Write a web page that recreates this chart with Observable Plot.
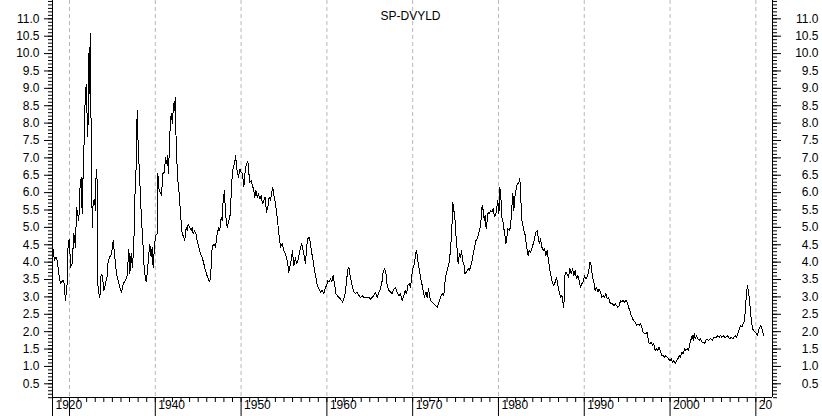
<!DOCTYPE html>
<html>
<head>
<meta charset="utf-8">
<script src="https://cdn.jsdelivr.net/npm/d3@7"></script>
<script src="https://cdn.jsdelivr.net/npm/@observablehq/plot@0.6"></script>
<style>
  html, body { margin: 0; padding: 0; background: #fff; }
  #chart svg { display: block; }
</style>
</head>
<body>
<div id="chart"></div>
<script>
const title = "SP-DVYLD";

const years = [
1928.06,1928.25,1928.45,1928.56,1928.76,1928.95,1929.15,1929.34,1929.53,1929.73,1929.85,
1930.00,1930.12,1930.31,1930.51,1930.70,1930.82,1931.09,1931.20,1931.36,1931.48,1931.59,1931.67,1931.79,1931.94,
1932.06,1932.14,1932.27,1932.33,1932.41,1932.49,1932.56,1932.68,1932.76,1932.91,1933.03,1933.11,1933.23,1933.30,
1933.42,1933.54,1933.69,1933.85,1934.00,1934.20,1934.39,1934.51,1934.70,1934.90,1935.09,1935.25,1935.48,1935.75,
1936.06,1936.26,1936.53,1936.72,1936.92,1937.03,1937.19,1937.34,1937.50,1937.62,1937.77,1937.89,1938.00,1938.12,
1938.28,1938.39,1938.55,1938.67,1938.82,1938.94,1939.05,1939.25,1939.36,1939.52,1939.64,1939.75,1939.91,
1940.03,1940.22,1940.30,1940.45,1940.61,1940.72,1940.88,1941.07,1941.19,1941.31,1941.42,1941.54,1941.70,1941.85,
1942.01,1942.12,1942.24,1942.32,1942.40,1942.47,1942.63,1942.78,1942.94,1943.13,1943.33,1943.44,1943.60,1943.72,
1943.83,1944.03,1944.18,1944.30,1944.42,1944.57,1944.73,1944.88,1945.08,1945.27,1945.46,1945.66,1945.85,
1946.05,1946.24,1946.36,1946.51,1946.63,1946.82,1947.02,1947.21,1947.41,1947.52,1947.68,1947.80,1947.91,
1948.07,1948.18,1948.38,1948.57,1948.77,1948.88,1949.08,1949.23,1949.35,1949.54,1949.70,1949.86,
1950.01,1950.17,1950.32,1950.48,1950.63,1950.79,1950.90,1951.02,1951.18,1951.33,1951.49,1951.60,1951.72,1951.88,
1952.03,1952.19,1952.34,1952.50,1952.65,1952.81,1952.96,1953.12,1953.27,1953.43,1953.58,1953.70,1953.82,
1954.01,1954.21,1954.40,1954.60,1954.79,1954.98,1955.18,1955.37,1955.57,1955.68,1955.84,1955.99,
1956.15,1956.34,1956.46,1956.62,1956.77,1956.93,1957.08,1957.24,1957.39,1957.51,1957.63,1957.78,1957.94,
1958.09,1958.25,1958.40,1958.56,1958.71,1958.87,1959.06,1959.26,1959.45,1959.65,1959.80,1959.96,
1960.11,1960.27,1960.42,1960.58,1960.73,1960.89,1961.05,1961.20,1961.39,1961.59,1961.82,1961.98,
1962.13,1962.29,1962.41,1962.56,1962.68,1962.83,1962.99,1963.14,1963.34,1963.53,1963.73,1963.92,
1964.12,1964.31,1964.50,1964.70,1964.89,1965.09,1965.28,1965.47,1965.67,1965.86,
1966.06,1966.25,1966.45,1966.56,1966.72,1966.87,1967.03,1967.22,1967.42,1967.61,1967.81,
1968.00,1968.19,1968.39,1968.58,1968.78,1968.97,1969.13,1969.28,1969.44,1969.59,1969.75,1969.90,
1970.06,1970.22,1970.33,1970.45,1970.60,1970.76,1970.91,1971.07,1971.22,1971.38,1971.54,1971.69,1971.85,
1972.00,1972.08,1972.27,1972.47,1972.66,1972.86,1973.05,1973.25,1973.44,1973.63,1973.75,1973.91,
1974.02,1974.22,1974.41,1974.57,1974.68,1974.80,1974.92,1975.03,1975.19,1975.30,1975.46,1975.58,1975.69,1975.81,1975.97,
1976.08,1976.24,1976.35,1976.47,1976.59,1976.74,1976.90,1977.05,1977.21,1977.36,1977.52,1977.68,1977.83,1977.99,
1978.10,1978.22,1978.34,1978.45,1978.57,1978.69,1978.80,1978.92,1979.07,1979.23,1979.38,1979.54,1979.70,1979.81,1979.93,
1980.05,1980.16,1980.28,1980.40,1980.51,1980.63,1980.74,1980.86,1980.98,1981.10,1981.25,1981.41,1981.56,1981.68,1981.79,1981.91,
1982.03,1982.18,1982.34,1982.49,1982.61,1982.73,1982.84,1982.96,1983.08,1983.19,1983.35,1983.46,1983.58,1983.74,1983.89,
1984.05,1984.20,1984.36,1984.51,1984.63,1984.75,1984.90,1985.06,1985.21,1985.37,1985.52,1985.68,1985.83,1985.99,
1986.15,1986.30,1986.46,1986.61,1986.77,1986.92,1987.08,1987.23,1987.39,1987.54,1987.62,1987.74,1987.86,
1988.01,1988.17,1988.32,1988.48,1988.63,1988.79,1988.94,1989.10,1989.25,1989.41,1989.56,1989.72,1989.88,
1990.03,1990.19,1990.34,1990.50,1990.65,1990.81,1990.96,1991.12,1991.27,1991.43,1991.59,1991.74,1991.90,
1992.05,1992.21,1992.36,1992.52,1992.67,1992.83,1992.98,1993.14,1993.30,1993.45,1993.61,1993.76,1993.92,
1994.07,1994.23,1994.38,1994.54,1994.69,1994.85,1995.00,1995.16,1995.32,1995.47,1995.63,1995.78,1995.94,
1996.09,1996.25,1996.40,1996.56,1996.71,1996.87,1997.02,1997.18,1997.34,1997.49,1997.65,1997.80,1997.96,
1998.11,1998.27,1998.42,1998.58,1998.73,1998.89,1999.05,1999.20,1999.36,1999.51,1999.67,1999.82,1999.98,
2000.13,2000.29,2000.44,2000.60,2000.76,2000.91,2001.07,2001.22,2001.38,2001.53,2001.69,2001.84,
2002.00,2002.15,2002.31,2002.46,2002.58,2002.70,2002.81,2002.93,2003.09,2003.24,2003.40,2003.55,2003.71,2003.86,
2004.02,2004.17,2004.33,2004.49,2004.64,2004.80,2004.95,2005.11,2005.26,2005.42,2005.57,2005.73,2005.88,
2006.04,2006.19,2006.35,2006.51,2006.66,2006.82,2006.97,2007.13,2007.28,2007.44,2007.59,2007.75,2007.90,
2008.06,2008.22,2008.37,2008.53,2008.68,2008.80,2008.91,2009.03,2009.15,2009.26,2009.38,2009.50,2009.61,2009.77,2009.92,
2010.08,2010.20,2010.31,2010.47,2010.59,2010.70,2010.82,2010.94
];

const values = [
4.43,4.05,4.15,4.05,3.67,3.38,3.45,3.48,2.90,3.38,4.62,
4.66,3.85,3.95,4.82,4.43,5.58,5.20,6.06,6.44,5.40,6.54,7.12,8.45,9.10,
8.16,7.60,10.00,8.85,10.57,8.85,6.25,5.00,5.78,5.80,5.49,6.68,6.34,3.38,
3.10,2.98,3.66,3.60,3.19,3.38,3.60,4.05,4.15,4.24,4.62,4.24,3.66,3.38,
3.13,3.38,3.48,3.60,4.38,3.66,4.24,3.85,4.52,5.87,6.73,8.36,7.40,6.73,
5.87,5.20,4.62,3.95,3.60,3.43,3.66,4.24,4.52,4.15,4.43,3.85,4.43,
4.77,4.82,6.54,6.06,6.00,5.91,6.54,6.60,7.01,6.83,7.06,6.54,7.70,8.27,
7.98,8.56,8.36,8.75,7.80,7.12,6.34,5.97,5.40,4.82,4.72,4.62,5.00,4.91,
5.10,5.00,4.91,5.00,4.82,4.91,4.82,4.62,4.43,4.24,4.15,3.95,3.76,
3.60,3.48,3.43,3.85,4.43,4.52,4.43,4.82,5.00,4.91,5.30,5.20,5.78,
6.06,5.40,5.00,5.20,5.40,6.25,6.73,6.83,7.06,6.63,6.44,6.68,
6.59,6.54,6.16,6.64,6.83,6.90,6.58,6.30,6.35,6.20,6.06,5.87,6.06,5.87,
5.97,5.82,5.92,5.68,5.78,5.87,5.44,5.58,5.87,5.78,6.01,6.16,5.92,
5.68,5.29,4.82,4.43,4.53,4.33,4.24,4.05,3.71,3.85,4.05,4.33,
3.90,4.14,3.95,4.05,4.24,4.43,4.53,4.33,4.14,3.95,4.43,4.67,4.72,
4.53,4.24,4.05,3.76,3.57,3.33,3.24,3.14,3.19,3.09,3.24,3.33,
3.47,3.43,3.52,3.43,3.62,3.38,3.09,3.04,2.99,2.94,2.85,2.94,
3.09,3.43,3.76,3.85,3.66,3.47,3.28,3.14,3.09,3.14,3.04,2.99,
3.04,2.99,2.99,2.99,2.99,2.94,2.99,3.04,3.14,2.99,
3.14,3.23,3.47,3.71,3.81,3.71,3.33,3.19,3.14,3.09,3.23,
3.28,3.14,3.04,3.09,2.90,3.04,3.19,3.09,3.33,3.38,3.28,3.62,
3.85,3.95,4.24,4.33,4.05,3.81,3.57,3.38,3.19,2.99,3.14,2.99,3.23,
2.99,2.90,2.85,2.80,2.75,2.70,2.85,2.99,3.09,3.04,3.38,3.66,
3.76,3.95,4.34,5.00,5.72,5.49,5.29,4.82,4.34,3.95,4.24,4.14,4.34,4.05,3.95,
3.66,3.71,3.76,3.81,3.76,3.85,4.00,4.24,4.43,4.62,4.67,4.82,4.96,5.25,
5.63,5.49,5.20,5.34,4.96,5.20,5.44,5.39,5.49,5.44,5.54,5.30,5.39,5.58,5.77,
5.39,6.16,5.87,5.29,5.20,4.96,4.82,4.53,4.72,4.96,4.91,5.00,5.58,5.97,5.49,5.87,
6.06,6.25,6.25,6.40,5.78,5.20,5.06,4.91,4.82,4.62,4.34,4.19,4.34,4.29,4.38,
4.53,4.67,4.86,4.91,4.72,4.53,4.67,4.43,4.34,4.38,4.19,4.34,4.05,3.76,
3.57,3.38,3.33,3.43,3.57,3.33,3.14,2.99,3.04,2.80,2.70,3.62,3.71,
3.66,3.57,3.81,3.66,3.81,3.62,3.76,3.52,3.62,3.47,3.28,3.38,3.43,
3.62,3.52,3.57,3.71,4.00,3.90,3.57,3.43,3.18,3.28,3.14,3.23,3.14,
2.99,3.04,2.99,3.09,2.94,2.99,2.85,2.80,2.80,2.75,2.80,2.75,2.70,
2.75,2.90,2.85,2.90,2.85,2.90,2.85,2.70,2.61,2.47,2.37,2.32,2.27,
2.18,2.22,2.18,2.22,2.13,1.98,1.94,1.94,1.98,1.70,1.65,1.70,1.60,
1.65,1.46,1.51,1.46,1.56,1.41,1.31,1.31,1.27,1.31,1.27,1.22,1.17,
1.22,1.12,1.17,1.08,1.17,1.22,1.31,1.27,1.41,1.36,1.51,1.46,
1.51,1.46,1.65,1.79,1.89,1.75,1.94,1.79,1.89,1.79,1.75,1.79,1.70,1.70,
1.65,1.75,1.79,1.75,1.79,1.79,1.75,1.84,1.84,1.84,1.89,1.84,1.89,
1.84,1.89,1.84,1.84,1.89,1.84,1.79,1.84,1.79,1.84,1.89,1.84,1.94,
2.08,2.18,2.13,2.23,2.32,2.70,3.14,3.33,3.14,2.90,2.56,2.27,2.08,2.03,1.98,
1.94,1.89,2.03,2.13,2.18,2.08,1.98,1.89
];

// axis settings
const xDomain = [1928.02, 2011.94];
const yDomain = [0.106, 11.527];
const yMajorTicks = d3.range(1, 23).map(i => i * 0.5);
const yMinorTicks = d3.range(1, 116).map(i => i / 10);
const xMinorTicks = d3.range(1929, 2012);
const xMajorTicks = [1928.02, 1930, 1940, 1950, 1960, 1970, 1980, 1990, 2000, 2010];
const gridYears = [1930, 1940, 1950, 1960, 1970, 1980, 1990, 2000, 2010];
const xLabelYears = [1928.02, 1940, 1950, 1960, 1970, 1980, 1990, 2000, 2010];
const xLabels = ["1920", "1940", "1950", "1960", "1970", "1980", "1990", "2000", "20"];

const data = years.map((x, i) => ({x, y: values[i]}));
const fmt = d3.format(".1f");
const blank = () => "";

const chart = Plot.plot({
  width: 822,
  height: 416,
  marginLeft: 52,
  marginRight: 50,
  marginTop: 0,
  marginBottom: 19,
  x: {domain: xDomain, label: null},
  y: {domain: yDomain, label: null},
  style: {fontFamily: "'Liberation Sans', Arial, sans-serif", fontSize: "12px", background: "#fff", color: "#000"},
  marks: [
    Plot.ruleX(gridYears, {stroke: "#b8b8b8", strokeDasharray: "4,3"}),
    Plot.axisY({anchor: "left", ticks: yMinorTicks, tickSize: 4, tickFormat: blank, label: null}),
    Plot.axisY({anchor: "left", ticks: yMajorTicks, tickSize: 8, tickPadding: 5, tickFormat: fmt, label: null}),
    Plot.axisY({anchor: "right", ticks: yMinorTicks, tickSize: 4, tickFormat: blank, label: null}),
    Plot.axisY({anchor: "right", ticks: yMajorTicks, tickSize: 8, tickPadding: 38, textAnchor: "end", tickFormat: fmt, label: null}),
    Plot.axisX({anchor: "bottom", ticks: xMinorTicks, tickSize: 5, tickFormat: blank, label: null}),
    Plot.axisX({anchor: "bottom", ticks: xMajorTicks, tickSize: 19, tickFormat: blank, label: null}),
    Plot.text(xLabelYears, {x: d => d, text: (d, i) => xLabels[i], frameAnchor: "bottom", textAnchor: "start", dx: 3, dy: 11, fill: "#000"}),
    Plot.ruleX(xDomain, {stroke: "#000"}),
    Plot.ruleY([yDomain[0]], {stroke: "#000"}),
    Plot.line(data, {x: "x", y: "y", stroke: "#000", strokeWidth: 1, shapeRendering: "crispEdges"}),
    Plot.text([title], {frameAnchor: "top", dy: 11, dx: -2, fill: "#000"})
  ]
});
document.getElementById("chart").appendChild(chart);
</script>
</body>
</html>
